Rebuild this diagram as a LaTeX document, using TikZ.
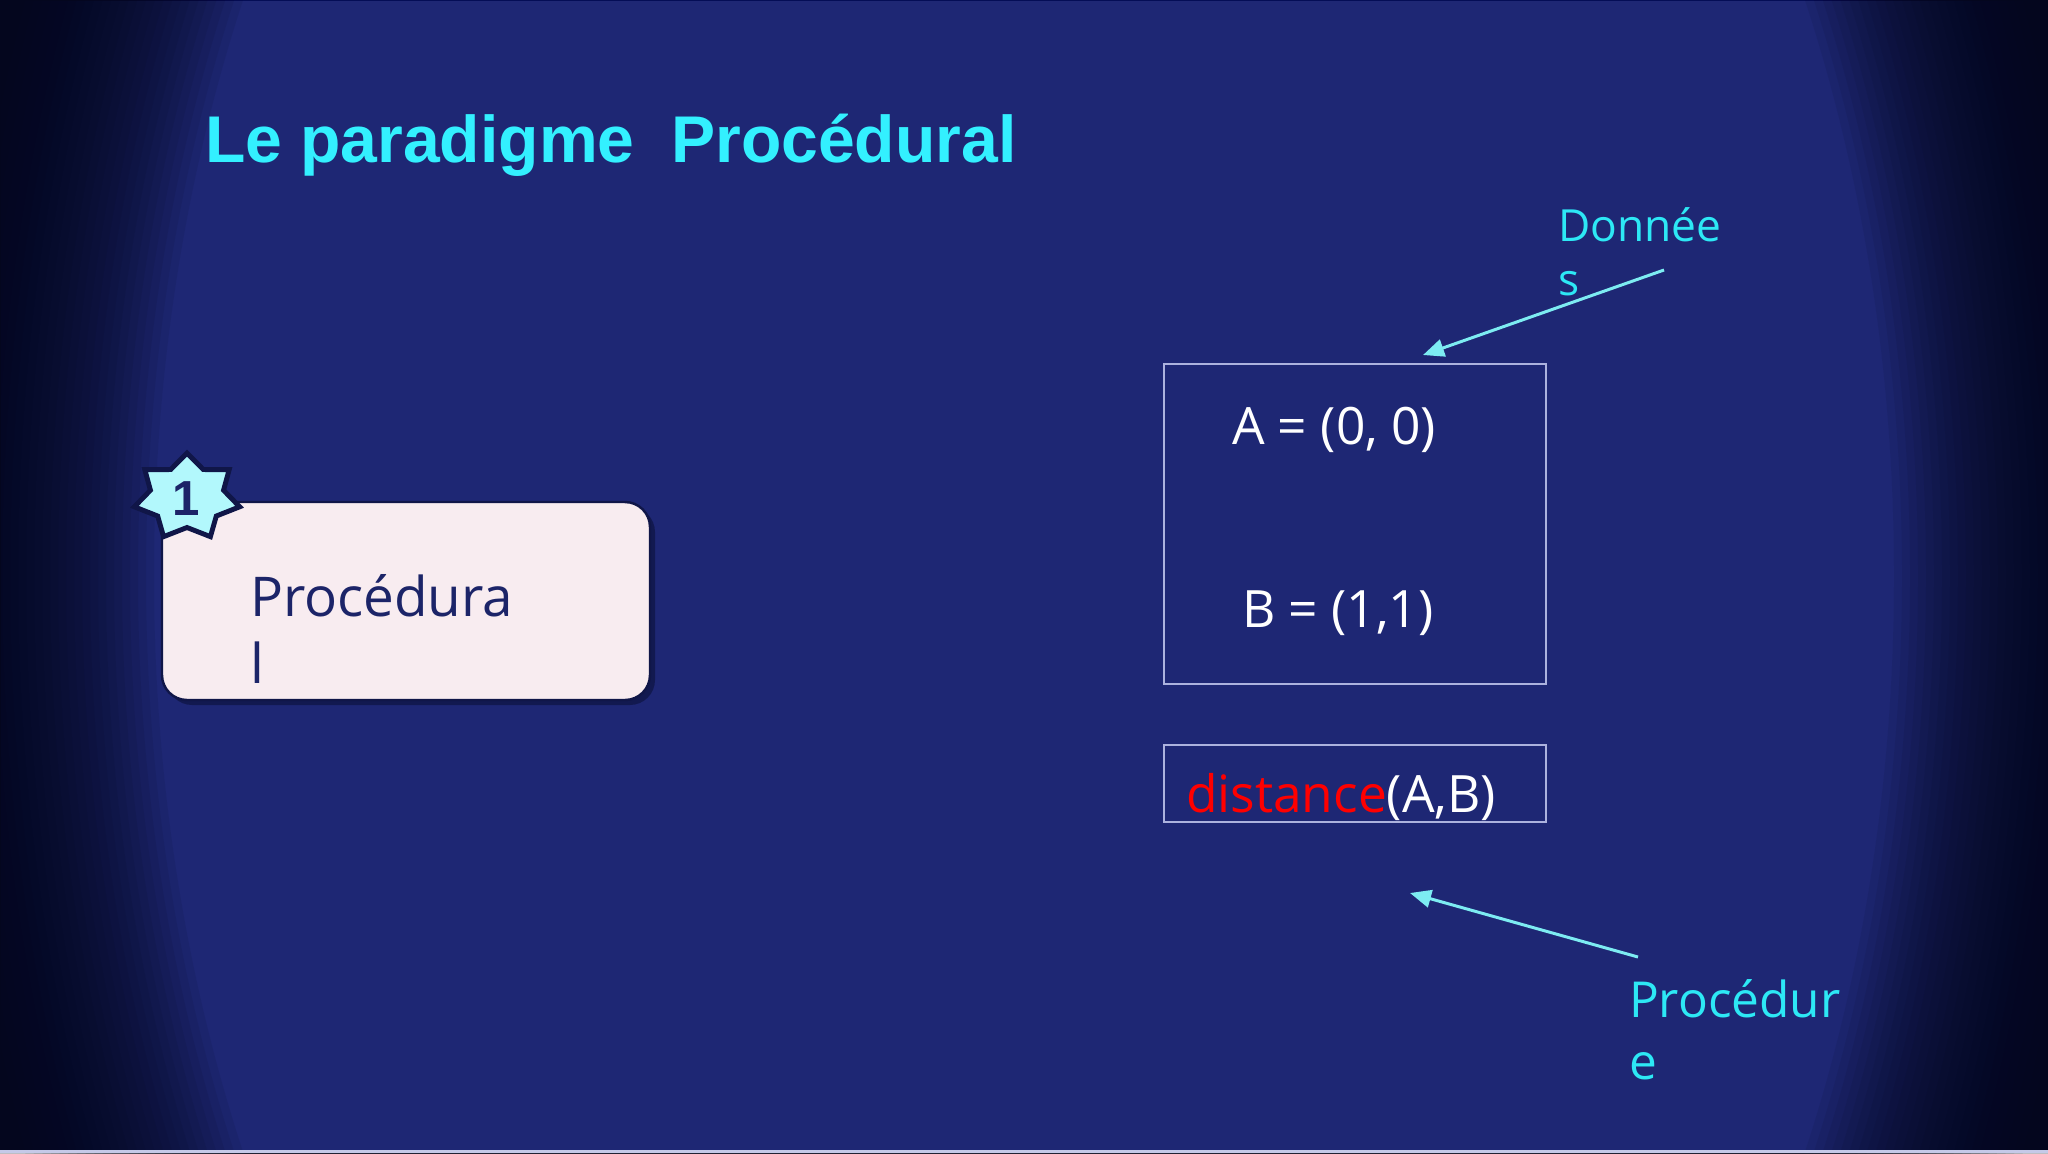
\documentclass[tikz,border=0pt]{standalone}
\usepackage{fontspec}
\setmainfont{Open Sans}
\newfontfamily\headfont{Liberation Sans}
\usetikzlibrary{positioning}
\usetikzlibrary{calc}
\usetikzlibrary{arrows.meta}
\definecolor{slidebg}{RGB}{30,39,116}
\definecolor{slidedark}{RGB}{4,6,24}
\definecolor{titlecyan}{RGB}{51,240,255}
\definecolor{labelcyan}{RGB}{45,232,245}
\definecolor{arrowcyan}{RGB}{125,236,242}
\definecolor{cardfill}{RGB}{248,236,240}
\definecolor{navy}{RGB}{28,36,104}
\definecolor{navydark}{RGB}{16,22,72}
\definecolor{starfill}{RGB}{178,248,252}
\definecolor{framegray}{RGB}{172,178,222}

\begin{document}
\begin{tikzpicture}[x=0.1mm, y=-0.1mm,
    every node/.style = {inner sep=0pt, outer sep=0pt},
    heading/.style = {font=\headfont\bfseries\fontsize{18.8pt}{22pt}\selectfont, text=titlecyan, anchor=base west},
    card/.style = {minimum width=48.8mm, minimum height=19.8mm, rounded corners=2.5mm},
    cardtext/.style = {font=\fontsize{15.6pt}{18.8pt}\selectfont, text=navy, align=left, anchor=base west},
    frame/.style = {draw=framegray, line width=0.45pt, minimum width=38.2mm},
    code/.style = {font=\fontsize{14.65pt}{17pt}\selectfont, text=white, anchor=base west},
    note/.style = {text=labelcyan, align=left, anchor=base west},
    pointer/.style = {draw=arrowcyan, line width=0.85pt, -{Triangle[length=6pt, width=5pt]}}
    ]
    \useasboundingbox (0,0) rectangle (2048,1153);
    % slide background, darker towards the sides
    \fill[slidebg] (0,0) rectangle (2048,1153);
    \foreach \r in {870,878,...,1070}
        \fill[slidedark, opacity=0.08, even odd rule] (0,0) rectangle (2048,1153)
            (1024,576) ellipse [x radius=\r, y radius=1.5*\r];
    \fill[framegray!70!white] (0,1150) rectangle (2048,1153);

    \node[heading] (title) at (205,162) {Le paradigme \ Procédural};

    % card with badge
    \node[card, fill=navydark, opacity=0.8] (cardshadow) at (411,606) {};
    \node[card, fill=cardfill, draw=navydark, line width=0.7pt] (card) at (406,601) {};
    \node[cardtext] (cardlabel) at (250,683) {Procédura\\l};
    \coordinate (badge) at (187,497);
    \filldraw[fill=starfill, draw=navydark, line width=1.4pt, line join=miter]
        ($(badge)+(90:5.4mm and 4.4mm)$)
        \foreach \k in {1,...,7} {
            -- ($(badge)+({90+(\k-0.5)*360/7}:3.75mm and 3.05mm)$)
            -- ($(badge)+({90+\k*360/7}:5.4mm and 4.4mm)$)
        } -- cycle;
    \node[font=\headfont\bfseries\fontsize{14pt}{14pt}\selectfont, text=navy] (num) at (186,499) {1};

    % data and call
    \node[frame, minimum height=32mm] (data) at (1355,524) {};
    \node[code] (pointA) at (1232,444) {A = (0, 0)};
    \node[code] (pointB) at (1242,627) {B = (1,1)};
    \node[frame, minimum height=7.7mm] (call) at (1355,783.5) {};
    \node[code] (calltext) at (1186,812) {\textcolor{red}{distance}(A,B)};

    % labels
    \node[note, font=\fontsize{12.6pt}{15.1pt}\selectfont] (donnees) at (1558,295) {Donnée\\s};
    \node[note, font=\fontsize{14.1pt}{17.4pt}\selectfont] (procedure) at (1629,1079) {Procédur\\e};
    \coordinate (dtail) at (1664,270);
    \coordinate (dtip) at (1423,355);
    \coordinate (ptail) at (1638,957);
    \coordinate (ptip) at (1410,893);
    \draw[pointer] (dtail) -- (dtip);
    \draw[pointer] (ptail) -- (ptip);
\end{tikzpicture}
\end{document}
